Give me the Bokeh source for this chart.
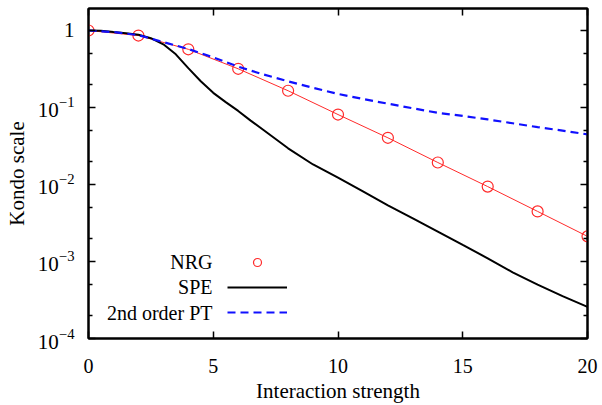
from bokeh.plotting import figure
from bokeh.models import (Range1d, FixedTicker, LinearAxis, LogAxis, Legend, LegendItem, Label)
from bokeh.embed import file_html
from bokeh.resources import INLINE

# ---- data ----
nrg_x = [0, 2, 4, 6, 8, 10, 12, 14, 16, 18, 20]
nrg_y = [1.0, 0.86, 0.57, 0.318, 0.165, 0.081, 0.0404, 0.0193, 0.0094, 0.00447, 0.00212]

spe_x = [0, 0.5, 1, 1.5, 2, 2.5, 3, 3.5, 4, 4.5, 5, 5.5, 6, 6.5, 7, 8, 9, 10,
         11, 12, 13, 14, 15, 16, 17, 18, 19, 20]
spe_y = [1.0, 0.989, 0.955, 0.923, 0.881, 0.794, 0.661, 0.490, 0.324, 0.219, 0.155, 0.1175,
         0.0902, 0.0676, 0.0513, 0.0295, 0.0182, 0.0123, 0.00813, 0.00537, 0.00363,
         0.00245, 0.00164, 0.0011, 0.000724, 0.000501, 0.000355, 0.000257]

pt_x = list(range(0, 21))
pt_y = [1.0, 0.955, 0.871, 0.708, 0.575, 0.447, 0.339, 0.269, 0.219, 0.180, 0.150, 0.129,
        0.112, 0.0977, 0.0853, 0.0776, 0.0700, 0.0624, 0.0556, 0.0501, 0.0447]

x_ticks = [0, 5, 10, 15, 20]
y_ticks = [1e-4, 1e-3, 1e-2, 1e-1, 1.0]
y_minor = [m * 10.0 ** e for e in range(-4, 1) for m in (2, 5)]

legend_labels = ["NRG", "SPE", "2nd order PT"]

FONT = "Liberation Serif"

p = figure(width=602, height=405, y_axis_type="log",
           x_range=Range1d(0, 20), y_range=Range1d(1e-4, 1.93),
           output_backend="svg", toolbar_location=None,
           min_border_left=88, min_border_right=15, min_border_top=8, min_border_bottom=67)
p.grid.visible = False
p.outline_line_color = "black"
p.outline_line_width = 2
p.background_fill_color = "white"
p.border_fill_color = "white"

# data
r_line = p.line(nrg_x, nrg_y, line_color="#ff2a2a", line_width=1)
r_nrg = p.scatter(nrg_x, nrg_y, marker="circle", size=11, fill_color=None,
                  line_color="#ff2a2a", line_width=1.2)
r_spe = p.line(spe_x, spe_y, line_color="black", line_width=2)
r_pt = p.line(pt_x, pt_y, line_color="#1010ff", line_width=2.2, line_dash="8 5")

# axes
xt = FixedTicker(ticks=x_ticks, minor_ticks=[])
yt = FixedTicker(ticks=y_ticks, minor_ticks=y_minor)

def style(ax, labels=True):
    ax.axis_line_color = "black"
    ax.axis_line_width = 2
    ax.major_tick_in = 7
    ax.major_tick_out = 0
    ax.minor_tick_in = 4
    ax.minor_tick_out = 0
    ax.major_tick_line_width = 1.5
    ax.minor_tick_line_width = 1.5
    ax.major_label_text_font = FONT
    ax.major_label_text_font_size = "20px" if labels else "0px"
    ax.major_label_text_color = "black"
    ax.axis_label_text_font = FONT
    ax.axis_label_text_font_size = "21px"
    ax.axis_label_text_font_style = "normal"
    ax.axis_label_text_color = "black"
    if not labels:
        ax.major_label_standoff = 0

xa = p.xaxis[0]
xa.ticker = xt
xa.axis_label = "Interaction strength"
style(xa)
xa.major_label_standoff = 20
xa.axis_label_standoff = 3

ya = p.yaxis[0]
ya.ticker = yt
ya.major_label_overrides = {1.0: "1"}
ya.axis_label = "Kondo scale"
style(ya)
ya.major_label_text_font_size = "21px"
ya.major_label_standoff = 14
ya.axis_label_standoff = 6

top = LinearAxis(ticker=xt, major_label_overrides={t: "" for t in x_ticks})
style(top, labels=False)
p.add_layout(top, "above")
right = LogAxis(ticker=yt, major_label_overrides={t: "" for t in y_ticks})
style(right, labels=False)
p.add_layout(right, "right")

# legend: glyph samples via Legend, text right-aligned to their left
leg = Legend(items=[LegendItem(label=" ", renderers=[r_nrg]),
                    LegendItem(label=" ", renderers=[r_spe]),
                    LegendItem(label=" ", renderers=[r_pt])],
             location=(139, 16), glyph_width=60, glyph_height=20, spacing=5,
             label_width=0, label_height=20, label_standoff=0, padding=0, margin=0,
             label_text_font_size="1px",
             border_line_color=None, background_fill_alpha=0)
p.add_layout(leg, "center")

for i, txt in enumerate(legend_labels):
    p.add_layout(Label(x=124, y=77 - 25.5 * i, x_units="screen", y_units="screen", text=txt,
                       text_align="right", text_baseline="middle",
                       text_font=FONT, text_font_size="20px", text_color="black"))

open("out.html", "w").write(file_html(p, INLINE))
